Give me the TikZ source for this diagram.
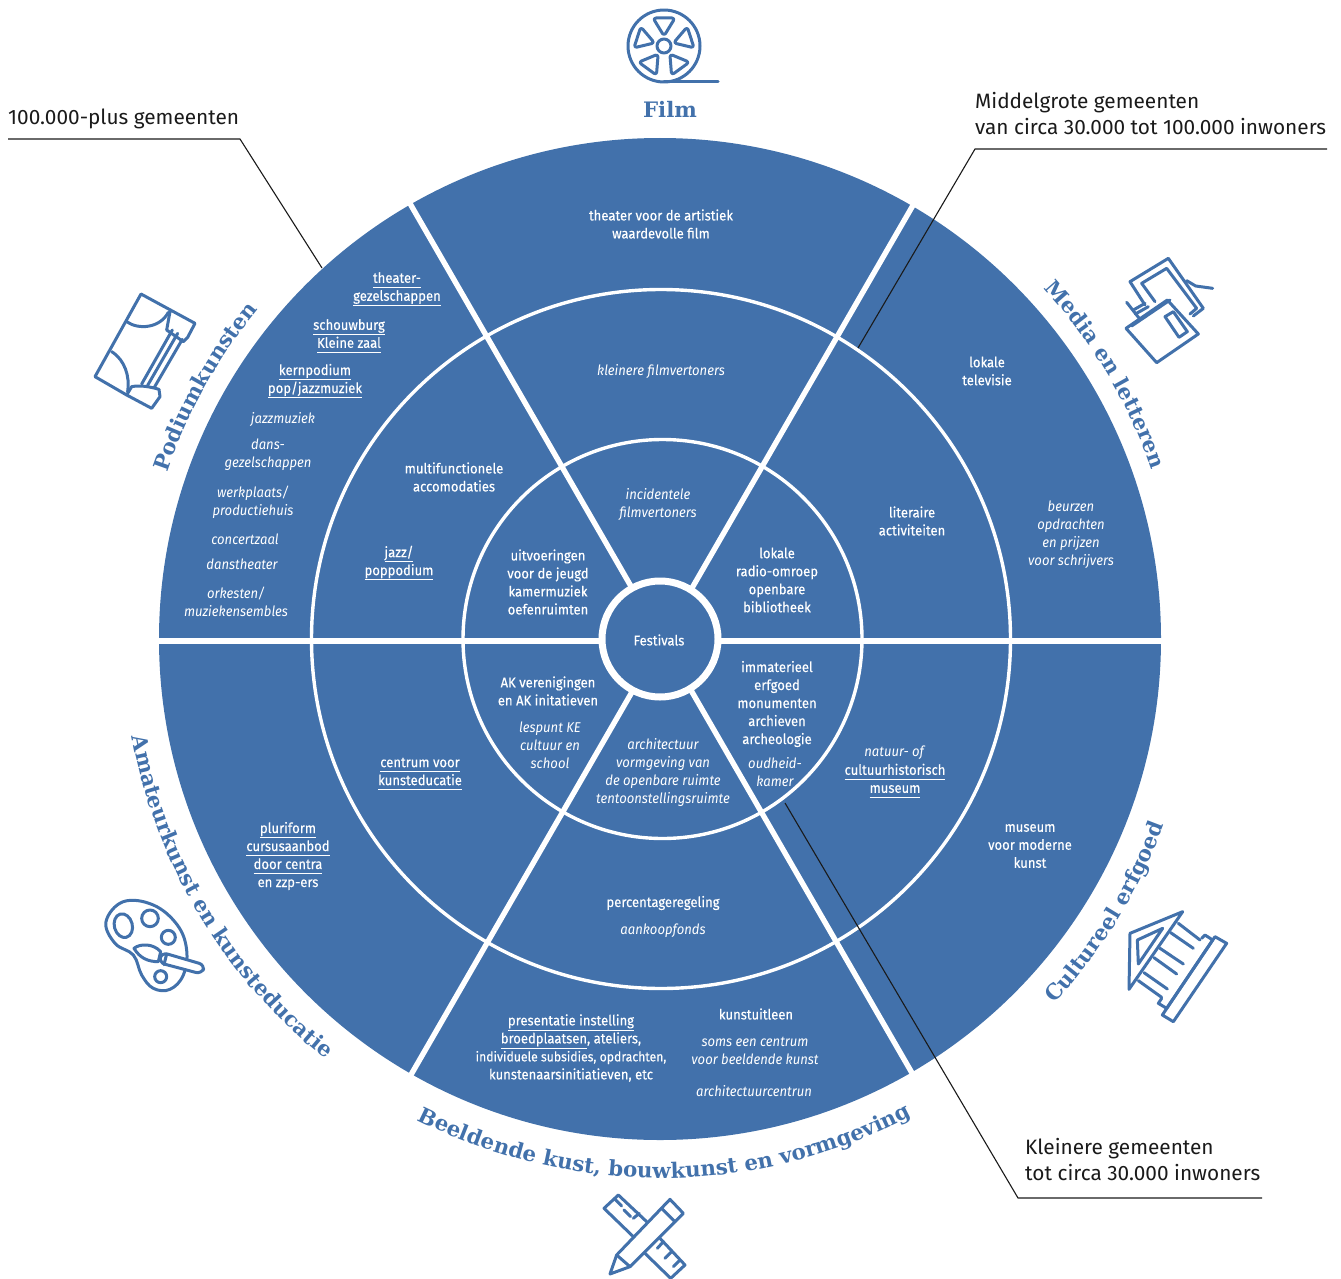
\documentclass[tikz,border=0pt]{standalone}
\usepackage{fontspec}
\usepackage{xcolor}
\setmainfont{Fira Sans}[FakeStretch=0.92,UprightFeatures={FakeBold=0.25}]
\newfontfamily\calloutfam{Fira Sans}
\newfontfamily\headfam{DejaVu Serif}
\definecolor{wheelblue}{HTML}{4271AB}
\definecolor{lineblack}{HTML}{1A1A1A}
\newcommand{\headfont}{\headfam\bfseries\fontsize{21.3}{24}\selectfont}
\newcommand{\uln}[1]{\underline{\vphantom{p}#1}}
\usetikzlibrary{decorations.text}

\begin{document}
\begin{tikzpicture}[x=1pt,y=-1pt,
    up/.style={text=white,align=center,inner sep=0pt,font=\fontsize{14.2}{18}\selectfont},
    it/.style={up,yshift=-1.5pt,font=\fontsize{14.2}{18}\selectfont\itshape},
    ringline/.style={draw=white,line width=3.4pt},
    spoke/.style={draw=white,line width=5.4pt},
    icon/.style={draw=wheelblue,line width=3pt,line join=round,line cap=round},
    leader/.style={draw=lineblack,line width=1.1pt},
    callout/.style={text=lineblack,align=left,anchor=west,inner sep=0pt,font=\calloutfam\fontsize{20.8}{26}\selectfont},
    arclabel/.style={decorate,decoration={text along path,text align=center,text={|\headfont\color{wheelblue}|#1}}}]
    \useasboundingbox (0,0) rectangle (1341,1279);
    \coordinate (hub) at (660,639);

    % Wheel
    \fill[wheelblue] (hub) circle (501);
    \draw[ringline] (661,639) circle (349.5);
    \draw[ringline] (662.5,639) circle (199.5);
    \begin{scope}[shift={(662,640)}]
        \foreach \a in {60,120,240,300}
            \draw[spoke] (\a:59) -- (\a:510);
    \end{scope}
    \draw[draw=white,line width=6pt] (150,641) -- (1170,641);
    \draw[draw=white,line width=7pt,fill=wheelblue] (hub) circle (58);

    % Segment names
    \begin{scope}[shift={(hub)}]
        \path[arclabel=Podiumkunsten] (149:520) arc (149:269:520);
        \path[arclabel=Media en letteren] (-90.7:520) arc (-90.7:29.3:520);
        \path[arclabel=Cultureel erfgoed] (91.5:537) arc (91.5:-28.5:537);
        \path[arclabel={Beeldende kust, bouwkunst en vormgeving}] (149.5:539) arc (149.5:29.5:539);
        \path[arclabel=Amateurkunst en kunsteducatie] (209:537) arc (209:89:537);
    \end{scope}
    \node[text=wheelblue,inner sep=0pt,font=\headfont] (filmname) at (670,109) {Film};

    % Film
    \node[up] (filmouter) at (661,224) {theater voor de artistiek\\waardevolle film};
    \node[it] (filmmid) at (661,370) {kleinere filmvertoners};
    \node[it] (filminner) at (658,503) {incidentele\\filmvertoners};

    % Media en letteren
    \node[up] (mediatv) at (987,371) {lokale\\televisie};
    \node[it] (mediafairs) at (1071,533) {beurzen\\opdrachten\\en prijzen\\voor schrijvers};
    \node[up] (medialit) at (912,521) {literaire\\activiteiten};
    \node[up] (medialocal) at (777,580) {lokale\\radio-omroep\\openbare\\bibliotheek};

    % Podiumkunsten
    \node[up] (podtheater) at (397,289) {\uln{theater-}\\\uln{gezelschappen}};
    \node[up] (podschouw) at (349,336) {\uln{schouwburg}\\\uln{Kleine zaal}};
    \node[up] (podkern) at (315,381) {\uln{kernpodium}\\\uln{pop/jazzmuziek}};
    \node[it] (podjazz) at (283,418) {jazzmuziek};
    \node[it] (poddans) at (268,453) {dans-\\gezelschappen};
    \node[it] (podwerk) at (253,501) {werkplaats/\\productiehuis};
    \node[it] (podconcert) at (245,538) {concertzaal};
    \node[it] (poddanst) at (242,563) {danstheater};
    \node[it] (podork) at (236,600) {orkesten/\\muziekensembles};
    \node[up] (podmulti) at (454,477) {multifunctionele\\accomodaties};
    \node[up] (podpop) at (399,563) {\uln{jazz/}\\\uln{poppodium}};
    \node[up] (podjeugd) at (548,582) {uitvoeringen\\voor de jeugd\\kamermuziek\\oefenruimten};

    % Centre
    \node[up] (festivals) at (659,640) {Festivals};

    % Cultureel erfgoed
    \node[up] (erfgoed) at (777,704) {immaterieel\\erfgoed\\monumenten\\archieven\\archeologie};
    \node[it] (oudheid) at (775,771) {oudheid-\\kamer};
    \node[up] (natuur) at (895,772) {\textit{natuur- of}\\\uln{cultuurhistorisch}\\\uln{museum}};
    \node[up] (modern) at (1030,846) {museum\\voor moderne\\kunst};

    % Amateurkunst en kunsteducatie
    \node[up] (akver) at (548,691) {AK verenigingen\\en AK initatieven};
    \node[it] (lespunt) at (550,744) {lespunt KE\\cultuur en\\school};
    \node[up] (centrum) at (420,774) {\uln{centrum voor}\\\uln{kunsteducatie}};
    \node[up] (pluri) at (288,856) {\uln{pluriform}\\\uln{cursusaanbod}\\\uln{door centra}\\en zzp-ers};

    % Beeldende kunst
    \node[it] (archi) at (663,771) {architectuur\\vormgeving van\\de openbare ruimte\\tentoonstellingsruimte};
    \node[up] (percent) at (663,903) {percentageregeling};
    \node[it] (aankoop) at (663,929) {aankoopfonds};
    \node[up] (present) at (571,1048) {\uln{presentatie instelling}\\\uln{broedplaatsen}, ateliers,\\\fontsize{13.3}{18}\selectfont individuele subsidies, opdrachten,\\kunstenaarsinitiatieven, etc};
    \node[up] (uitleen) at (756,1014) {kunstuitleen};
    \node[it] (somscentrum) at (755,1049) {soms een centrum\\voor beeldende kunst};
    \node[it] (archcentrum) at (754,1090) {architectuurcentrun};

    % Leaders
    \node[callout] (bigcity) at (8,119) {100.000-plus gemeenten};
    \node[callout,anchor=north west] (midcity) at (975,92) {Middelgrote gemeenten\\van circa 30.000 tot 100.000 inwoners};
    \node[callout,anchor=north west] (smallcity) at (1025,1138) {Kleinere gemeenten\\tot circa 30.000 inwoners};
    \coordinate (bigbend) at (240,139);
    \coordinate (midbend) at (975,149);
    \coordinate (smallbend) at (1018,1198);
    \draw[leader] (8,139) -- (bigbend) -- (322,268);
    \draw[leader] (1327,149) -- (midbend) -- (858,348);
    \draw[leader] (1262,1198) -- (smallbend) -- (785,803);

    % Film reel
    \draw[icon] (664,46) circle (36);
    \draw[icon] (664,82) -- (718,82);
    \draw[icon] (664,46) circle (7);
    \foreach \a in {0,72,...,288}
        \draw[icon,rounded corners=3pt,rotate around={\a:(664,46)}] (653,18) -- (675,18) -- (664,36) -- cycle;

    % Curtain
    \begin{scope}[shift={(85,280)},scale=1/3]
        \draw[icon] (125,345) -- (30,290) -- (168,42) -- (330,130) -- (308,172) -- (295,185) -- (245,150) -- (255,95);
        \draw[icon] (125,125) .. controls (160,150) and (225,145) .. (250,97);
        \draw[icon] (80,215) .. controls (120,240) and (135,290) .. (128,335);
        \draw[icon] (125,345) -- (140,320) .. controls (165,315) and (195,320) .. (222,328) -- (225,350) -- (200,385) -- (125,345);
        \draw[icon] (262,150) -- (170,312);
        \draw[icon] (278,160) -- (188,316);
        \draw[icon] (292,178) -- (208,322);
    \end{scope}

    % Television and book
    \begin{scope}[shift={(1030,240)},scale=1/3]
        \draw[icon] (345,195) -- (300,125) -- (415,55) -- (520,205) -- (490,228);
        \draw[icon] (375,185) -- (335,130) -- (410,85) -- (500,205) -- (480,222);
        \draw[icon] (470,122) -- (497,138) -- (548,145);
        \draw[icon] (290,187) -- (330,238);
        \draw[icon] (310,210) -- (345,190);
        \draw[icon] (316,222) -- (355,200);
        \draw[icon] (288,265) -- (412,180) -- (505,282) -- (380,368) -- (288,265);
        \draw[icon] (305,258) -- (420,180);
        \draw[icon] (405,230) -- (430,215) -- (472,275) -- (447,292) -- cycle;
    \end{scope}

    % Temple
    \begin{scope}[shift={(1030,890)},scale=1/3]
        \draw[icon] (300,130) -- (458,65) -- (297,298) -- cycle;
        \draw[icon] (322,150) -- (398,115) -- (325,222) -- cycle;
        \draw[icon] (445,100) -- (510,150);
        \draw[icon] (422,128) -- (490,175);
        \draw[icon] (390,175) -- (460,222);
        \draw[icon] (372,203) -- (440,252);
        \draw[icon] (342,248) -- (412,297);
        \draw[icon] (325,272) -- (395,322);
        \draw[icon] (515,145) -- (525,135) -- (548,150) -- (410,355) -- (385,340) -- (395,325);
        \draw[icon] (555,140) -- (590,160) -- (430,395) -- (397,375) -- cycle;
    \end{scope}

    % Palette
    \begin{scope}[shift={(90,880)},scale=1/3]
        \draw[icon] plot[smooth cycle,tension=0.65] coordinates {(48,125) (100,65) (190,75) (262,135) (290,210) (280,285) (240,328) (190,325) (155,285) (130,225) (75,190)};
        \draw[icon,rotate around={15:(100,137)}] (100,137) ellipse (27 and 36);
        \draw[icon] (180,115) circle (25);
        \draw[icon] (235,172) circle (21);
        \draw[icon] (212,290) circle (18);
        \draw[icon,fill=white] (132,205) .. controls (150,190) and (190,190) .. (212,215) -- (205,245) .. controls (175,245) and (150,235) .. (132,205) -- cycle;
        \draw[icon,fill=white,rounded corners=6pt] (215,217) -- (345,255) -- (335,282) -- (207,248) -- cycle;
        \draw[icon] (230,222) -- (222,254);
    \end{scope}

    % Ruler and pencil
    \begin{scope}[shift={(400,990)},scale=1/3]
        \draw[icon] (700,740) -- (612,655) -- (655,615) -- (740,695);
        \draw[icon] (780,745) -- (855,825) -- (812,865) -- (735,790);
        \draw[icon] (645,628) -- (665,648);
        \draw[icon] (672,660) -- (692,680);
        \draw[icon] (700,685) -- (718,670);
        \draw[icon] (790,755) -- (772,775);
        \draw[icon] (815,785) -- (795,805);
        \draw[icon] (838,812) -- (820,830);
        \draw[icon] (650,795) -- (810,628) -- (850,670) -- (690,830) -- (630,852) -- cycle;
        \draw[icon] (785,655) -- (825,695);
        \draw[icon] (650,795) -- (690,830);
    \end{scope}
\end{tikzpicture}
\end{document}
